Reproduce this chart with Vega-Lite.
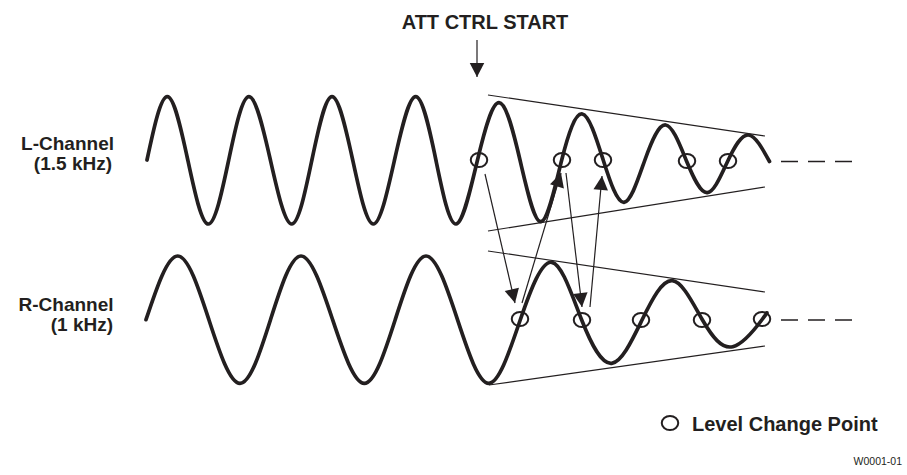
{
  "$schema": "https://vega.github.io/schema/vega-lite/v6.json",
  "width": 907,
  "height": 475,
  "autosize": {"type": "fit", "contains": "padding"},
  "padding": 0,
  "background": "white",
  "config": {"view": {"stroke": null}},
  "datasets": {
    "waves": [
      {"ch": "L", "x": 147, "y": 160}, {"ch": "L", "x": 167.3, "y": 96.7}, {"ch": "L", "x": 187.8, "y": 160}, {"ch": "L", "x": 208.3, "y": 224},
      {"ch": "L", "x": 228.7, "y": 160}, {"ch": "L", "x": 249, "y": 96.7}, {"ch": "L", "x": 270.4, "y": 160}, {"ch": "L", "x": 291.7, "y": 224},
      {"ch": "L", "x": 311.9, "y": 160}, {"ch": "L", "x": 332, "y": 96.7}, {"ch": "L", "x": 352.7, "y": 160}, {"ch": "L", "x": 373.3, "y": 224},
      {"ch": "L", "x": 394.5, "y": 160}, {"ch": "L", "x": 415.7, "y": 96.7}, {"ch": "L", "x": 435.9, "y": 160}, {"ch": "L", "x": 456, "y": 224},
      {"ch": "L", "x": 477.5, "y": 160}, {"ch": "L", "x": 499, "y": 102.7}, {"ch": "L", "x": 520, "y": 160}, {"ch": "L", "x": 541, "y": 221.7},
      {"ch": "L", "x": 561.7, "y": 160}, {"ch": "L", "x": 582.3, "y": 114}, {"ch": "L", "x": 603.2, "y": 160}, {"ch": "L", "x": 624, "y": 202.3},
      {"ch": "L", "x": 644.9, "y": 160}, {"ch": "L", "x": 665.7, "y": 125}, {"ch": "L", "x": 686.5, "y": 161}, {"ch": "L", "x": 707.3, "y": 192.7},
      {"ch": "L", "x": 727.8, "y": 161}, {"ch": "L", "x": 748.3, "y": 135}, {"ch": "L", "x": 769.5, "y": 161.5},
      {"ch": "R", "x": 146, "y": 319.7}, {"ch": "R", "x": 177.7, "y": 256}, {"ch": "R", "x": 208.9, "y": 319.7}, {"ch": "R", "x": 240, "y": 383.3},
      {"ch": "R", "x": 270.5, "y": 319.7}, {"ch": "R", "x": 301, "y": 256}, {"ch": "R", "x": 332.6, "y": 319.7}, {"ch": "R", "x": 364.3, "y": 383.3},
      {"ch": "R", "x": 395.2, "y": 319.7}, {"ch": "R", "x": 426, "y": 256}, {"ch": "R", "x": 457.5, "y": 319.7}, {"ch": "R", "x": 489, "y": 383.3},
      {"ch": "R", "x": 520.4, "y": 319.5}, {"ch": "R", "x": 551.7, "y": 262.3}, {"ch": "R", "x": 581.7, "y": 320}, {"ch": "R", "x": 611.7, "y": 363.3},
      {"ch": "R", "x": 642, "y": 320}, {"ch": "R", "x": 672.3, "y": 280.7}, {"ch": "R", "x": 702.5, "y": 320}, {"ch": "R", "x": 732.7, "y": 346.7},
      {"ch": "R", "x": 762.5, "y": 319}, {"ch": "R", "x": 766, "y": 314}
    ],
    "envelope": [
      {"x": 488, "y": 95, "x2": 765, "y2": 136},
      {"x": 488, "y": 231, "x2": 765, "y2": 187},
      {"x": 488, "y": 251, "x2": 765, "y2": 292},
      {"x": 489, "y": 385, "x2": 765, "y2": 346}
    ],
    "dashes": [
      {"x": 781, "y": 161.5, "x2": 852},
      {"x": 781, "y": 320, "x2": 852}
    ],
    "arrows": [
      {"x": 477, "y": 40, "x2": 477, "y2": 77},
      {"x": 485, "y": 174, "x2": 515, "y2": 303},
      {"x": 522, "y": 303, "x2": 561, "y2": 173},
      {"x": 566, "y": 173, "x2": 582, "y2": 307},
      {"x": 590, "y": 307, "x2": 602, "y2": 176}
    ],
    "circles": [
      {"x": 479, "y": 160}, {"x": 562, "y": 160}, {"x": 603, "y": 160}, {"x": 687, "y": 161}, {"x": 728, "y": 161},
      {"x": 520, "y": 319}, {"x": 582, "y": 320}, {"x": 641, "y": 320}, {"x": 702, "y": 320}, {"x": 762, "y": 319},
      {"x": 670, "y": 423}
    ],
    "labelsRight": [
      {"x": 114, "y": 150, "label": "L-Channel"},
      {"x": 112, "y": 170, "label": "(1.5 kHz)"},
      {"x": 113.5, "y": 311, "label": "R-Channel"},
      {"x": 113, "y": 331, "label": "(1 kHz)"}
    ],
    "title": [{"x": 485, "y": 29.3, "label": "ATT CTRL START"}],
    "legend": [{"x": 692, "y": 430.7, "label": "Level Change Point"}],
    "code": [{"x": 902, "y": 465, "label": "W0001-01"}]
  },
  "encoding": {
    "x": {"field": "x", "type": "quantitative", "scale": {"domain": [0, 907], "nice": false, "zero": false}, "axis": null},
    "y": {"field": "y", "type": "quantitative", "scale": {"domain": [0, 475], "nice": false, "zero": false, "reverse": true}, "axis": null}
  },
  "layer": [
    {
      "data": {"name": "envelope"},
      "mark": {"type": "rule", "strokeWidth": 1.2, "color": "#231f20"},
      "encoding": {"x2": {"field": "x2"}, "y2": {"field": "y2"}}
    },
    {
      "data": {"name": "dashes"},
      "mark": {"type": "rule", "strokeWidth": 1.5, "strokeDash": [17, 10], "color": "#231f20"},
      "encoding": {"x2": {"field": "x2"}}
    },
    {
      "data": {"name": "waves"},
      "mark": {"type": "line", "interpolate": "natural", "strokeWidth": 3.7, "color": "#231f20", "strokeCap": "round"},
      "encoding": {"detail": {"field": "ch"}, "order": {"field": "x", "type": "quantitative"}}
    },
    {
      "data": {"name": "arrows"},
      "mark": {"type": "rule", "strokeWidth": 1.2, "color": "#231f20"},
      "encoding": {"x2": {"field": "x2"}, "y2": {"field": "y2"}}
    },
    {
      "data": {"name": "arrows"},
      "transform": [{"calculate": "atan2(datum.x2 - datum.x, datum.y - datum.y2) * 180 / PI", "as": "ang"}],
      "mark": {"type": "point", "shape": "M0,0L-0.52,1L0.52,1Z", "filled": true, "size": 784, "color": "#231f20", "opacity": 1, "strokeWidth": 0},
      "encoding": {
        "x": {"field": "x2", "type": "quantitative"},
        "y": {"field": "y2", "type": "quantitative"},
        "angle": {"field": "ang", "type": "quantitative", "scale": null}
      }
    },
    {
      "data": {"name": "circles"},
      "mark": {"type": "point", "shape": "M1,0A1,0.86,0,1,1,-1,0A1,0.86,0,1,1,1,0Z", "filled": false, "size": 272, "strokeWidth": 2, "color": "#231f20", "opacity": 1}
    },
    {
      "data": {"name": "labelsRight"},
      "mark": {"type": "text", "align": "right", "baseline": "alphabetic", "font": "Liberation Sans", "fontWeight": "bold", "fontSize": 19, "color": "#231f20"},
      "encoding": {"text": {"field": "label"}}
    },
    {
      "data": {"name": "title"},
      "mark": {"type": "text", "align": "center", "baseline": "alphabetic", "font": "Liberation Sans", "fontWeight": "bold", "fontSize": 20, "color": "#231f20"},
      "encoding": {"text": {"field": "label"}}
    },
    {
      "data": {"name": "legend"},
      "mark": {"type": "text", "align": "left", "baseline": "alphabetic", "font": "Liberation Sans", "fontWeight": "bold", "fontSize": 20, "color": "#231f20"},
      "encoding": {"text": {"field": "label"}}
    },
    {
      "data": {"name": "code"},
      "mark": {"type": "text", "align": "right", "baseline": "alphabetic", "font": "Liberation Sans", "fontSize": 10.5, "color": "#231f20"},
      "encoding": {"text": {"field": "label"}}
    }
  ]
}
